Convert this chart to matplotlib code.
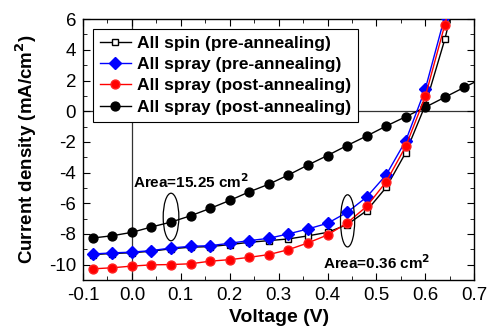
import numpy as np
import matplotlib.pyplot as plt
from matplotlib.patches import Ellipse
from matplotlib.ticker import MultipleLocator, FormatStrFormatter

plt.rcParams['font.family'] = ['Liberation Sans', 'DejaVu Sans']
plt.rcParams['axes.unicode_minus'] = False

# Data (V, mA/cm^2)
v = [-0.08, -0.04, 0.00, 0.04, 0.08, 0.12, 0.16, 0.20, 0.24, 0.28,
     0.32, 0.36, 0.40, 0.44, 0.48, 0.52, 0.56, 0.60, 0.64, 0.68]
v_black = v + [0.72]

spin_pre = [-9.35, -9.28, -9.23, -9.13, -8.97, -8.87, -8.83, -8.70, -8.55, -8.44,
            -8.33, -8.13, -7.90, -7.40, -6.49, -4.97, -2.70, 0.40, 4.70, 10.0]
spray_pre = [-9.31, -9.24, -9.19, -9.09, -8.92, -8.81, -8.77, -8.61, -8.44, -8.29,
             -8.00, -7.68, -7.31, -6.60, -5.60, -4.15, -1.92, 1.45, 6.20, 11.0]
spray_post = [-10.28, -10.21, -10.10, -10.02, -10.00, -9.95, -9.78, -9.68, -9.53, -9.35,
              -9.03, -8.59, -8.07, -7.29, -6.21, -4.60, -2.29, 0.97, 5.65, 10.5]
spray_big = [-8.27, -8.12, -7.90, -7.55, -7.23, -6.82, -6.34, -5.82, -5.26, -4.76,
             -4.16, -3.51, -2.89, -2.24, -1.62, -0.97, -0.36, 0.26, 0.91, 1.56, 2.2]

labels = ['All spin (pre-annealing)', 'All spray (pre-annealing)',
          'All spray (post-annealing)', 'All spray (post-annealing)']

fig = plt.figure(figsize=(4.94, 3.36), dpi=100)
ax = fig.add_axes([0.168, 0.167, 0.792, 0.776])

ax.axhline(0, color='#333333', lw=0.9, zorder=1)
ax.axvline(0, color='#333333', lw=0.9, zorder=1)

ax.plot(v, spin_pre, '-s', color='black', mfc='white', mec='black', ms=4.5, lw=1, label=labels[0], zorder=3)
ax.plot(v, spray_pre, '-D', color='blue', ms=5.8, lw=1, label=labels[1], zorder=4)
ax.plot(v, spray_post, '-o', color='red', mec='#ff2020', ms=6.4, lw=1, label=labels[2], zorder=5)
ax.plot(v_black, spray_big, '-o', color='black', ms=6.4, lw=1, label=labels[3], zorder=3)

ax.set_xlim(-0.1, 0.7)
ax.set_ylim(-11, 6)
ax.xaxis.set_major_locator(MultipleLocator(0.1))
ax.xaxis.set_minor_locator(MultipleLocator(0.05))
ax.xaxis.set_major_formatter(FormatStrFormatter('%.1f'))
ax.yaxis.set_major_locator(MultipleLocator(2))
ax.yaxis.set_minor_locator(MultipleLocator(1))
ax.tick_params(which='both', direction='in', top=True, right=True, labelsize=13.5)
ax.tick_params(which='major', length=5, pad=5)
ax.tick_params(which='minor', length=3)
for s in ax.spines.values():
    s.set_linewidth(1)

ax.set_xlabel('Voltage (V)', fontsize=14, fontweight='bold', labelpad=4)
ax.set_ylabel('Current density (mA/cm$^\\mathbf{2}$)', fontsize=13.5, fontweight='bold', labelpad=7)

ax.add_patch(Ellipse((0.08, -6.9), 0.032, 3.1, fill=False, ec='black', lw=0.9, zorder=6))
ax.add_patch(Ellipse((0.441, -7.15), 0.029, 3.4, fill=False, ec='black', lw=0.9, zorder=6))
ax.text(0.003, -4.6, 'Area=15.25 cm$^\\mathbf{2}$', fontsize=11, fontweight='bold', va='center')
ax.text(0.39, -9.85, 'Area=0.36 cm$^\\mathbf{2}$', fontsize=11, fontweight='bold', va='center')

leg = ax.legend(loc='upper left', bbox_to_anchor=(0.025, 0.963),
                prop={'weight': 'bold', 'size': 12.5}, frameon=True, fancybox=False,
                edgecolor='black', framealpha=1, handlelength=1.8, handletextpad=0.35,
                borderpad=0.4, labelspacing=0.35, borderaxespad=0)
leg.get_frame().set_linewidth(0.8)

fig.savefig('out.png', dpi=100)
